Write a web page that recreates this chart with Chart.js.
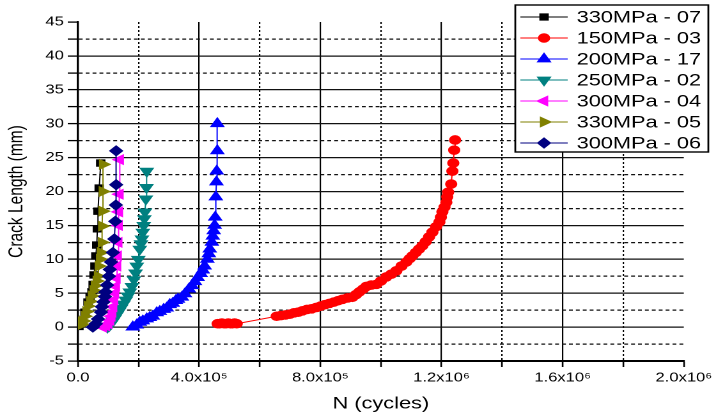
<!DOCTYPE html>
<html>
<head>
<meta charset="utf-8">
<script src="https://cdn.jsdelivr.net/npm/chart.js@4/dist/chart.umd.min.js"></script>
<style>
  html, body { margin: 0; padding: 0; background: #fff; overflow: hidden; }
  /* the source picture is stretched sideways, so we draw narrow and stretch */
  #wrap { width: 560px; height: 416px; transform: scaleX(1.278571); transform-origin: 0 0; }
</style>
</head>
<body>
<div id="wrap"><canvas id="chart" width="560" height="416"></canvas></div>
<script>
const seriesNames = ["330MPa - 07", "150MPa - 03", "200MPa - 17", "250MPa - 02", "300MPa - 04", "330MPa - 05", "300MPa - 06"];

// 330MPa - 07 (black squares)
const n07_330 = [3000, 13000, 23000, 33000, 40000, 46000, 50000, 53000, 56000, 59000, 62000, 64000, 66000, 70000, 75000];
const a07_330 = [0.1, 0.9, 2.2, 3.7, 4.5, 5.2, 6.3, 7.7, 9.0, 10.5, 12.1, 14.5, 17.1, 20.5, 24.2];

// 150MPa - 03 (red circles)
const n03_150 = [461000, 468000, 475000, 482000, 489000, 496000, 503000, 510000, 517000, 524000,
  656000, 670000, 685000, 699000, 713000, 727000, 741000, 756000, 771000, 787000,
  801000, 815000, 830000, 845000, 859000, 873000, 890000, 906000, 918000, 929000,
  941000, 952000, 968000, 985000, 1000000, 1018000, 1034000, 1051000, 1068000, 1084000,
  1095000, 1104000, 1115000, 1126000, 1137000, 1148000, 1159000, 1170000, 1182000, 1193000,
  1198000, 1203000, 1210000, 1216000, 1219000, 1222000, 1232000, 1236000, 1239000, 1242000, 1245000];
const a03_150 = [0.5, 0.5, 0.6, 0.5, 0.5, 0.6, 0.5, 0.5, 0.6, 0.5,
  1.6, 1.7, 1.8, 1.9, 2.1, 2.2, 2.4, 2.6, 2.7, 2.9,
  3.1, 3.3, 3.5, 3.7, 3.9, 4.1, 4.3, 4.4, 4.8, 5.2,
  5.6, 6.0, 6.2, 6.3, 6.8, 7.4, 7.8, 8.3, 9.0, 9.6,
  10.1, 10.5, 11.0, 11.5, 12.0, 12.6, 13.3, 14.0, 14.8, 15.5,
  16.2, 17.0, 17.7, 18.4, 19.2, 19.9, 21.1, 23.0, 24.2, 26.1, 27.6];

// 200MPa - 17 (blue up triangles)
const n17_200 = [181000, 194000, 204000, 214000, 227000, 237000, 247000, 260000, 270000, 283000,
  293000, 303000, 313000, 323000, 330000, 343000, 353000, 366000, 376000, 386000,
  395000, 405000, 412000, 418000, 427000, 432000, 435000, 442000, 445000, 448000,
  451000, 453000, 455000, 457000, 458000, 460000, 460000];
const a17_200 = [0.0, 0.3, 0.7, 0.9, 1.2, 1.4, 1.6, 2.1, 2.3, 2.6,
  2.8, 3.3, 3.5, 3.9, 4.1, 4.4, 4.9, 5.6, 6.1, 6.7,
  7.3, 7.9, 8.4, 9.0, 10.0, 10.8, 11.5, 12.5, 13.4, 14.2,
  15.0, 16.2, 19.2, 21.4, 23.0, 26.0, 30.0];

// 250MPa - 02 (teal down triangles)
const n02_250 = [97000, 103000, 109000, 115000, 121000, 128000, 135000, 142000, 150000, 158000,
  165000, 171000, 178000, 184500, 190000, 194000, 199000, 204000, 208000, 211000,
  214000, 217000, 219000, 221000, 224000, 226000, 227000];
const a02_250 = [0.0, 0.2, 0.5, 0.9, 1.3, 1.8, 2.3, 2.8, 3.4, 4.0,
  4.6, 5.2, 6.0, 7.0, 8.0, 9.0, 10.0, 11.5, 12.3, 13.0,
  14.0, 15.0, 16.0, 17.0, 18.9, 20.6, 23.0];

// 300MPa - 04 (magenta left triangles)
const n04_300 = [82000, 92000, 100000, 106000, 110000, 113000, 116000, 119000, 122000, 125000,
  127000, 129000, 131000, 133000, 134000, 135000, 137000, 138000];
const a04_300 = [0.0, 0.2, 0.5, 1.0, 1.6, 2.2, 3.0, 4.0, 5.0, 6.0,
  7.2, 9.0, 10.5, 12.5, 15.0, 17.0, 19.6, 24.7];

// 330MPa - 05 (olive right triangles)
const n05_330 = [5000, 13000, 18000, 23000, 28000, 33000, 40000, 46000, 52000, 56000,
  62000, 66000, 69000, 73000, 76000, 79000, 80000, 81000, 82000, 83000];
const a05_330 = [0.9, 0.4, 0.9, 1.6, 2.3, 3.1, 3.8, 4.6, 5.4, 6.1,
  6.8, 7.5, 9.0, 10.0, 11.0, 12.5, 14.9, 17.1, 20.0, 24.0];

// 300MPa - 06 (navy diamonds)
const n06_300 = [49000, 59000, 66000, 76000, 79000, 84000, 89000, 91000, 96000, 102000,
  105000, 109000, 115000, 120000, 123000, 125000, 126000, 126000];
const a06_300 = [0.0, 0.5, 1.2, 2.2, 3.0, 3.7, 4.5, 5.2, 6.2, 7.5,
  8.5, 9.6, 11.0, 13.0, 15.6, 18.0, 21.0, 26.0];

const xTickLabels = ["0.0", "4.0x10\u2075", "8.0x10\u2075", "1.2x10\u2076", "1.6x10\u2076", "2.0x10\u2076"];
const yTickLabels = ["-5", "0", "5", "10", "15", "20", "25", "30", "35", "40", "45"];

const FONT = '"Liberation Sans", Arial, sans-serif';

const styles = [
  { color: "#000000", pointStyle: "rect", rotation: 0, radius: 4.5 },
  { color: "#ff0000", pointStyle: "circle", rotation: 0, radius: 4.3 },
  { color: "#0000ff", pointStyle: "triangle", rotation: 0, radius: 5.8 },
  { color: "#008080", pointStyle: "triangle", rotation: 180, radius: 5.8 },
  { color: "#ff00ff", pointStyle: "triangle", rotation: -90, radius: 5.5 },
  { color: "#808000", pointStyle: "triangle", rotation: 90, radius: 5.5 },
  { color: "#000080", pointStyle: "rectRot", rotation: 0, radius: 5 }
];

const xs = [n07_330, n03_150, n17_200, n02_250, n04_300, n05_330, n06_300];
const ys = [a07_330, a03_150, a17_200, a02_250, a04_300, a05_330, a06_300];

const datasets = seriesNames.map((name, i) => ({
  label: name,
  data: xs[i].map((x, k) => ({ x: x, y: ys[i][k] })),
  showLine: true,
  borderColor: styles[i].color,
  backgroundColor: styles[i].color,
  borderWidth: 1,
  pointStyle: styles[i].pointStyle,
  rotation: styles[i].rotation,
  pointRadius: styles[i].radius,
  pointBorderWidth: 1,
  order: -i   // later series drawn on top, like the original
}));

// legend drawn inside the plot, boxed, line + marker per entry
const boxLegend = {
  id: "boxLegend",
  afterDraw(chart) {
    const ctx = chart.ctx;
    const L = 403, T = 5, R = 554, B = 152;
    ctx.save();
    ctx.fillStyle = "#fff";
    ctx.fillRect(L, T, R - L, B - T);
    ctx.strokeStyle = "#000";
    ctx.lineWidth = 1.4;
    ctx.strokeRect(L, T, R - L, B - T);
    ctx.font = "17px " + FONT;
    ctx.textBaseline = "middle";
    ctx.textAlign = "left";
    seriesNames.forEach((name, i) => {
      const y = 17 + i * 21;
      const st = styles[i];
      ctx.strokeStyle = st.color;
      ctx.lineWidth = 1;
      ctx.beginPath();
      ctx.moveTo(407, y);
      ctx.lineTo(444, y);
      ctx.stroke();
      ctx.fillStyle = st.color;
      Chart.helpers.drawPoint(ctx, {
        pointStyle: st.pointStyle, rotation: st.rotation,
        radius: st.radius, borderWidth: 1
      }, 425.5, y);
      ctx.fillStyle = "#000";
      ctx.fillText(name, 451, y + 1);
    });
    ctx.restore();
  }
};

const isMinorX = v => Math.round(v / 200000) % 2 !== 0;
const isMinorY = v => Math.round(v / 2.5) % 2 !== 0;

new Chart(document.getElementById("chart"), {
  type: "scatter",
  data: { datasets },
  plugins: [boxLegend],
  options: {
    responsive: false,
    animation: false,
    devicePixelRatio: 2,
    layout: { padding: { left: 0, right: 24, top: 22, bottom: 0 } },
    plugins: {
      legend: { display: false },
      tooltip: { enabled: false }
    },
    scales: {
      x: {
        type: "linear",
        min: 0,
        max: 2000000,
        afterFit: s => { s.height = 55; },
        ticks: {
          stepSize: 200000,
          autoSkip: false,
          maxRotation: 0,
          padding: 3,
          color: "#000",
          font: { family: FONT, size: 13 },
          callback: v => isMinorX(v) ? "" : xTickLabels[Math.round(v / 400000)]
        },
        grid: {
          color: c => (c.tick && c.tick.value >= 2000000) ? "rgba(0,0,0,0)" : "#000",
          lineWidth: 1.1,
          tickColor: "#000",
          tickLength: 6,
          tickWidth: 1.3
        },
        border: {
          color: "#000",
          width: 2,
          dash: c => (c.tick && isMinorX(c.tick.value)) ? [2, 2] : []
        },
        title: {
          display: true,
          text: "N (cycles)",
          color: "#000",
          font: { family: FONT, size: 17 },
          padding: { top: 0, bottom: 2 }
        }
      },
      y: {
        min: -5,
        max: 45,
        afterFit: s => { s.width = 61; },
        ticks: {
          stepSize: 2.5,
          autoSkip: false,
          padding: 3,
          color: "#000",
          font: { family: FONT, size: 13 },
          callback: v => isMinorY(v) ? "" : yTickLabels[Math.round((v + 5) / 5)]
        },
        grid: {
          color: c => (c.tick && c.tick.value >= 45) ? "rgba(0,0,0,0)" : "#111",
          lineWidth: 1.2,
          tickColor: "#000",
          tickLength: 8,
          tickWidth: 1.3
        },
        border: {
          color: "#000",
          width: 1.6,
          dash: c => (c.tick && isMinorY(c.tick.value)) ? [3, 2.4] : []
        },
        title: {
          display: true,
          text: "Crack Length (mm)",
          color: "#000",
          font: { family: FONT, size: 15.5 },
          padding: { top: 4, bottom: 0 }
        }
      }
    }
  }
});
</script>
</body>
</html>
